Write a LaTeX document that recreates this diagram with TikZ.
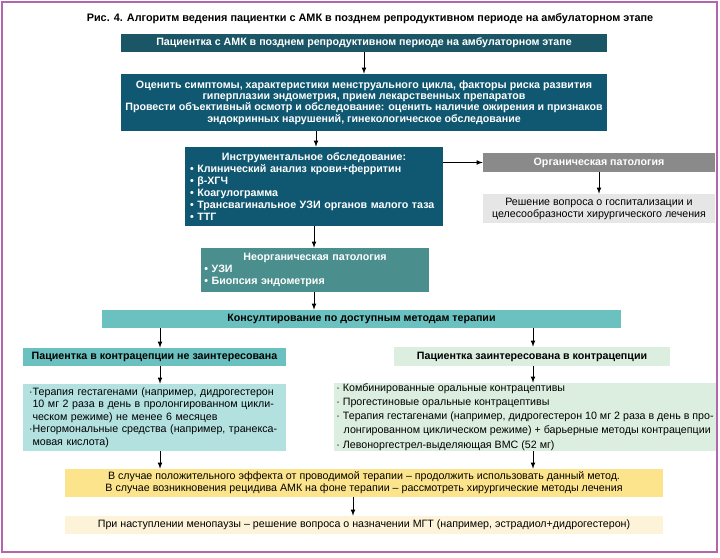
\documentclass[tikz,border=0pt]{standalone}
\usepackage{fontspec}
\setmainfont{Liberation Sans}
\usepackage{tikz}

\definecolor{framec}{RGB}{178,102,172}
\definecolor{deepteal}{RGB}{27,86,102}
\definecolor{petrol}{RGB}{16,88,114}
\definecolor{midteal}{RGB}{74,142,142}
\definecolor{lightteal}{RGB}{106,193,191}
\definecolor{paleteal}{RGB}{178,225,224}
\definecolor{palegreen}{RGB}{220,238,224}
\definecolor{greybox}{RGB}{138,138,138}
\definecolor{palegrey}{RGB}{230,230,230}
\definecolor{yellowbox}{RGB}{252,228,140}
\definecolor{creambox}{RGB}{253,243,216}

\begin{document}
\begin{tikzpicture}[x=0.75pt,y=-0.75pt,
	size/.style 2 args={inner sep=0pt, minimum width=#1*0.75pt, minimum height=#2*0.75pt},
	bold/.style={font=\bfseries\fontsize{8}{8.6}\selectfont},
	plain/.style={font=\fontsize{8}{9}\selectfont},
	list/.style={font=\fontsize{8}{9.4}\selectfont},
	arr/.style={-latex, line width=0.6pt}]
	\useasboundingbox (0,0) rectangle (720,557);
	\draw [framec, line width=1.5pt] (2,2) rectangle (717,552);
	%
	\node [font=\bfseries\fontsize{8.15}{9}\selectfont] (title) at (370,19) {Рис. 4. Алгоритм ведения пациентки с АМК в позднем репродуктивном периоде на амбулаторном этапе};
	
	\node [size={486}{18}, fill=deepteal, text=white, bold] (start) at (364,43) {Пациентка с АМК в позднем репродуктивном периоде на амбулаторном этапе};
	\node [size={486}{57}, fill=petrol, text=white, bold, align=center] (assess) at (364,102.5) {Оценить симптомы, характеристики менструального цикла, факторы риска развития\\ гиперплазии эндометрия, прием лекарственных препаратов\\ Провести объективный осмотр и обследование: оценить наличие ожирения и признаков\\ эндокринных нарушений, гинекологическое обследование};
	\node [size={258}{79}, fill=petrol, text=white, font=\bfseries\fontsize{8}{8.9}\selectfont, text width=186pt, align=left] (instr) at (314,186.5) {\centerline{Инструментальное обследование:}\\
		• Клинический анализ крови+ферритин\\ • β-ХГЧ\\ • Коагулограмма\\ • Трансвагинальное УЗИ органов малого таза\\ • ТТГ};
	
	\node [size={232}{19}, fill=greybox, text=white, bold] (organic) at (599,162.5) {Органическая патология};
	\node [size={232}{29}, fill=palegrey, plain, align=center] (decide) at (599,208.5) {Решение вопроса о госпитализации и\\ целесообразности хирургического лечения};
	
	\node [size={228}{44}, fill=midteal, text=white, font=\bfseries\fontsize{8}{8.9}\selectfont, text width=166pt, align=left] (neorg) at (315,270) {\centerline{Неорганическая патология}\\
		• УЗИ\\ • Биопсия эндометрия};
	\node [size={519}{18}, fill=lightteal, bold] (consult) at (361.5,319) {Консултирование по доступным методам терапии};
	
	\node [size={263}{18}, fill=lightteal, bold] (nothead) at (154.5,357) {Пациентка в контрацепции не заинтересована};
	\node [size={276}{19}, fill=palegreen, bold] (wanthead) at (532,356.5) {Пациентка заинтересована в контрацепции};
	
	\node [size={263}{67}, fill=paleteal, list, text width=188pt, align=left] (notdet) at (154.5,417.5) {·Терапия гестагенами (например, дидрогестерон\\ \hspace*{2.5pt}10 мг 2 раза в день в пролонгированном цикли-\\ \hspace*{2.5pt}ческом режиме) не менее 6 месяцев\\ ·Негормональные средства (например, транекса-\\ \hspace*{2.5pt}мовая кислота)};
	\node [size={382}{68}, fill=palegreen, list, align=left] (wantdet) at (525,417) {· Комбинированные оральные контрацептивы\\[1.2pt] · Прогестиновые оральные контрацептивы\\[1.2pt] · Терапия гестагенами (например, дидрогестерон 10 мг 2 раза в день в про-\\[1.2pt] \hspace*{5.5pt}лонгированном циклическом режиме) + барьерные методы контрацепции\\[1.2pt] · Левоноргестрел-выделяющая ВМС (52 мг)};
	
	\node [size={598}{28}, fill=yellowbox, plain, align=center] (result) at (364,483) {В случае положительного эффекта от проводимой терапии – продолжить использовать данный метод.\\ В случае возникновения рецидива АМК на фоне терапии – рассмотреть хирургические методы лечения};
	\node [size={598}{18}, fill=creambox, plain] (meno) at (364,525) {При наступлении менопаузы – решение вопроса о назначении МГТ (например, эстрадиол+дидрогестерон)};
	
	% arrows
	\draw [arr] (start.south) -- (assess.north);
	\draw [arr] (assess.south -| 316,0) -- (instr.north -| 316,0);
	\draw [arr] (instr.east |- organic.west) -- (organic.west);
	\draw [arr] (organic.south) -- (decide.north);
	\draw [arr] (instr.south) -- (instr.south |- neorg.north);
	\draw [arr] (neorg.south -| 314,0) -- (consult.north -| 314,0);
	\draw [arr] (consult.south -| 160,0) -- (nothead.north -| 160,0);
	\draw [arr] (consult.south -| 533,0) -- (wanthead.north -| 533,0);
	\draw [arr] (nothead.south -| 160,0) -- (notdet.north -| 160,0);
	\draw [arr] (wanthead.south -| 533,0) -- (wantdet.north -| 533,0);
	\draw [arr] (notdet.south -| 160,0) -- (result.north -| 160,0);
	\draw [arr] (wantdet.south -| 533,0) -- (result.north -| 533,0);
	\draw [arr] (result.south -| 353,0) -- (meno.north -| 353,0);
\end{tikzpicture}
\end{document}
